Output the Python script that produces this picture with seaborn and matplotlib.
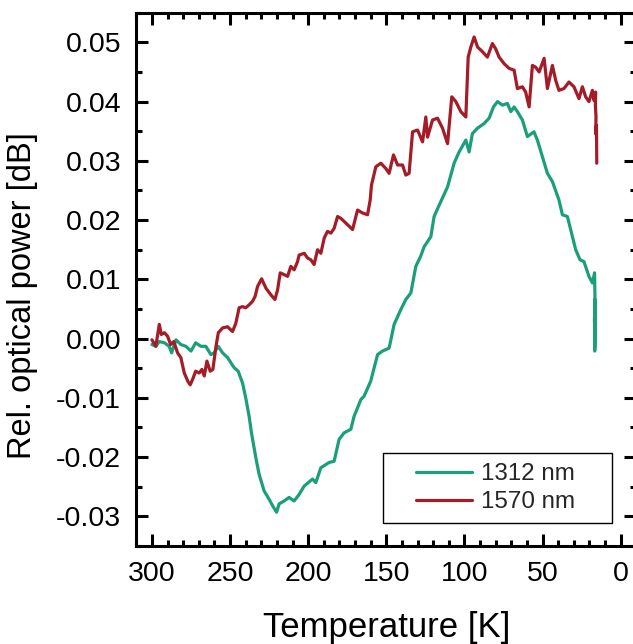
import numpy as np
import pandas as pd
import matplotlib
matplotlib.use("Agg")
import matplotlib.pyplot as plt
import seaborn as sns
from matplotlib.ticker import MultipleLocator, FormatStrFormatter
from matplotlib.legend_handler import HandlerLine2D

# ---- data ----
temp_1312 = [300, 297.5, 295.3, 292, 289, 287.4, 284.6, 281.5, 278.3, 275, 272, 268.7, 265.5,
             262.3, 260.2, 257.6, 254.8, 251.6, 247.4, 244.8, 242, 239.9, 237.8, 236.3, 233.5,
             231.4, 228.2, 225, 222.8, 220.2, 218.6, 215.4, 212.2, 209, 205.8, 202.6, 197.2,
             195.1, 191.9, 186.6, 183.4, 180.2, 177.0, 172.7, 170.6, 166.3, 164.2, 160.0, 155.6,
             152.4, 148.2, 145, 140.7, 137.5, 134.3, 131.1, 128, 125.8, 121.5, 119.4, 116.2,
             110.8, 106.6, 103.4, 99.1, 97.0, 94.9, 91.7, 87.4, 84.2, 81.4, 78.8, 75.7, 72.5,
             70.3, 68.2, 66.1, 62.9, 59.7, 55.5, 53.3, 50.1, 46.9, 43.7, 39.5, 37.3, 34.1, 32.0,
             28.8, 26.0, 23.5, 20.3, 18.1, 16.7, 16.4, 16.8, 16.3, 16.6, 16.2, 16.5, 16.3]
power_1312 = [-0.001, -0.0013, -0.0005, -0.0007, -0.0013, -0.0024, -0.0002, -0.001, -0.0013,
              -0.0021, -0.0007, -0.0013, -0.0013, -0.0027, -0.0024, -0.0013, -0.0024, -0.0032,
              -0.0049, -0.0055, -0.0075, -0.0101, -0.0131, -0.0159, -0.0201, -0.0229, -0.0257,
              -0.0271, -0.0282, -0.0293, -0.0279, -0.0274, -0.0268, -0.0274, -0.0263, -0.0249,
              -0.0237, -0.0243, -0.0218, -0.0209, -0.0207, -0.017, -0.0159, -0.0153, -0.0131,
              -0.0103, -0.0097, -0.0072, -0.0027, -0.0021, -0.0016, 0.0024, 0.0049, 0.0066,
              0.0077, 0.0122, 0.0139, 0.0155, 0.0172, 0.0206, 0.0225, 0.0256, 0.0296, 0.0315,
              0.0335, 0.0315, 0.0346, 0.0355, 0.0363, 0.0372, 0.0391, 0.04, 0.0394, 0.0397,
              0.0383, 0.0391, 0.0383, 0.0369, 0.0341, 0.0349, 0.0335, 0.0307, 0.0279, 0.0265,
              0.0234, 0.0209, 0.0206, 0.0184, 0.015, 0.0133, 0.013, 0.0105, 0.0094, 0.0111,
              0.006, 0.003, 0.001, -0.0021, 0.004, 0.0066, 0.002]

temp_1570 = [300, 297.5, 295.3, 294, 292, 290, 288, 286, 283.6, 281.5, 279.3, 277, 275.5, 274,
             272, 269.7, 268, 266.5, 264.8, 262.7, 261, 259, 257.5, 254.8, 251.6, 248.4, 246.3,
             244.2, 242, 240, 237.8, 235.6, 234, 232.4, 229.8, 227, 223.9, 221.3, 219.6, 217.9,
             215.4, 213.2, 211.1, 209, 206.8, 205.8, 202.5, 200.4, 198.3, 196.2, 194, 191.9,
             189.7, 187.6, 185.5, 183.4, 181.2, 179.1, 175.9, 171.6, 168.4, 165.2, 162.0, 160.3,
             159.5, 156.7, 153.5, 150.3, 148.2, 145.4, 142.8, 139.6, 137.5, 135.4, 133.2, 130,
             126.8, 124.7, 123.6, 120.4, 117.2, 114.0, 110.8, 108.1, 105.5, 102.3, 99.1, 97.6,
             95.9, 93.8, 91.6, 88.4, 85.3, 82.1, 80, 77.8, 74.6, 71.4, 68.2, 66.1, 62.9, 60.8,
             58.6, 56.5, 54.4, 52.2, 49.0, 46.9, 43.7, 41.6, 39.5, 36.3, 33.1, 29.9, 26.7, 24.5,
             22.4, 20.3, 18.1, 17.1, 16.0, 16.2, 15.8, 15.9, 15.5, 15.3]
power_1570 = [-0.0002, -0.0013, 0.0024, 0.0007, 0.001, 0.0004, -0.001, -0.0005, -0.0024,
              -0.0032, -0.0058, -0.0072, -0.0078, -0.0069, -0.0055, -0.0058, -0.0052, -0.0063,
              -0.0038, -0.0055, -0.0052, -0.0013, 0.001, 0.0018, 0.002, 0.0012, 0.0026, 0.0052,
              0.0054, 0.0052, 0.0057, 0.0063, 0.0071, 0.0088, 0.0101, 0.0085, 0.0074, 0.0066,
              0.0082, 0.0111, 0.0108, 0.0105, 0.0122, 0.0116, 0.013, 0.0141, 0.0144, 0.0136,
              0.0133, 0.0125, 0.015, 0.0144, 0.017, 0.0181, 0.0178, 0.0186, 0.0206, 0.0203,
              0.0195, 0.0184, 0.0217, 0.0212, 0.0209, 0.0234, 0.0259, 0.029, 0.0296, 0.0287,
              0.0279, 0.031, 0.0293, 0.0293, 0.0276, 0.0279, 0.0349, 0.0352, 0.0332, 0.0374,
              0.034, 0.0369, 0.0372, 0.0355, 0.0329, 0.0408, 0.04, 0.0383, 0.0374, 0.0475,
              0.0492, 0.0509, 0.0492, 0.0484, 0.0475, 0.0498, 0.0489, 0.0475, 0.0464, 0.0456,
              0.0453, 0.0422, 0.0425, 0.0416, 0.0391, 0.0461, 0.0458, 0.045, 0.0473, 0.0422,
              0.0461, 0.0436, 0.0419, 0.0422, 0.0433, 0.0425, 0.0405, 0.0425, 0.0408, 0.04,
              0.0419, 0.0402, 0.0416, 0.0395, 0.0375, 0.0345, 0.036, 0.0296]

labels = ["1312 nm", "1570 nm"]
colors = ["#1b9e7a", "#a31c27"]
x_ticks = [300, 250, 200, 150, 100, 50, 0]
y_ticks = [-0.03, -0.02, -0.01, 0.00, 0.01, 0.02, 0.03, 0.04, 0.05]

df = pd.concat([
    pd.DataFrame({"T": temp_1312, "P": power_1312, "series": labels[0]}),
    pd.DataFrame({"T": temp_1570, "P": power_1570, "series": labels[1]}),
], ignore_index=True)

sns.set_theme(style="ticks")
plt.rcParams["font.family"] = ["Liberation Sans", "DejaVu Sans"]

fig = plt.figure(figsize=(6.33, 6.44), dpi=100)
ax = fig.add_axes([136.3 / 633, 1 - 546 / 644, 500 / 633, 533.3 / 644])

sns.lineplot(data=df, x="T", y="P", hue="series", palette=dict(zip(labels, colors)),
             sort=False, estimator=None, linewidth=2.3, ax=ax, legend=False)

ax.set_xlim(310, -10)
ax.set_ylim(-0.035, 0.055)
ax.set_xticks(x_ticks)
ax.set_yticks(y_ticks)
ax.xaxis.set_minor_locator(MultipleLocator(10))
ax.yaxis.set_minor_locator(MultipleLocator(0.005))
ax.yaxis.set_major_formatter(FormatStrFormatter("%.2f"))

for s in ax.spines.values():
    s.set_linewidth(2.2)
    s.set_color("black")
    s.set_visible(True)
ax.tick_params(which="both", direction="in", top=True, right=True, color="black",
               width=2.2, labelsize=20.5, labelcolor="black", pad=11)
ax.tick_params(which="major", length=8.6)
ax.tick_params(which="minor", length=4.3)

ax.set_xlabel("Temperature [K]", fontsize=25, color="black")
ax.set_ylabel("Rel. optical power [dB]", fontsize=23.5, color="black")
ax.xaxis.set_label_coords(0.5, -0.121)
ax.yaxis.set_label_coords(-0.197, 0.47)

handles = [plt.Line2D([], [], color=c, linewidth=2.3) for c in colors]
leg = ax.legend(handles, [l + "    " for l in labels], loc="lower right",
                bbox_to_anchor=(0.951, 0.0437), borderaxespad=0, fontsize=17.4,
                frameon=True, fancybox=False, framealpha=1, edgecolor="black",
                borderpad=0.4, labelspacing=0.25, handlelength=3.3, handletextpad=0.37,
                handler_map={plt.Line2D: HandlerLine2D(xpad=1.0)})
leg.get_frame().set_linewidth(1.0)

fig.savefig("out.png", dpi=100, facecolor="white")
